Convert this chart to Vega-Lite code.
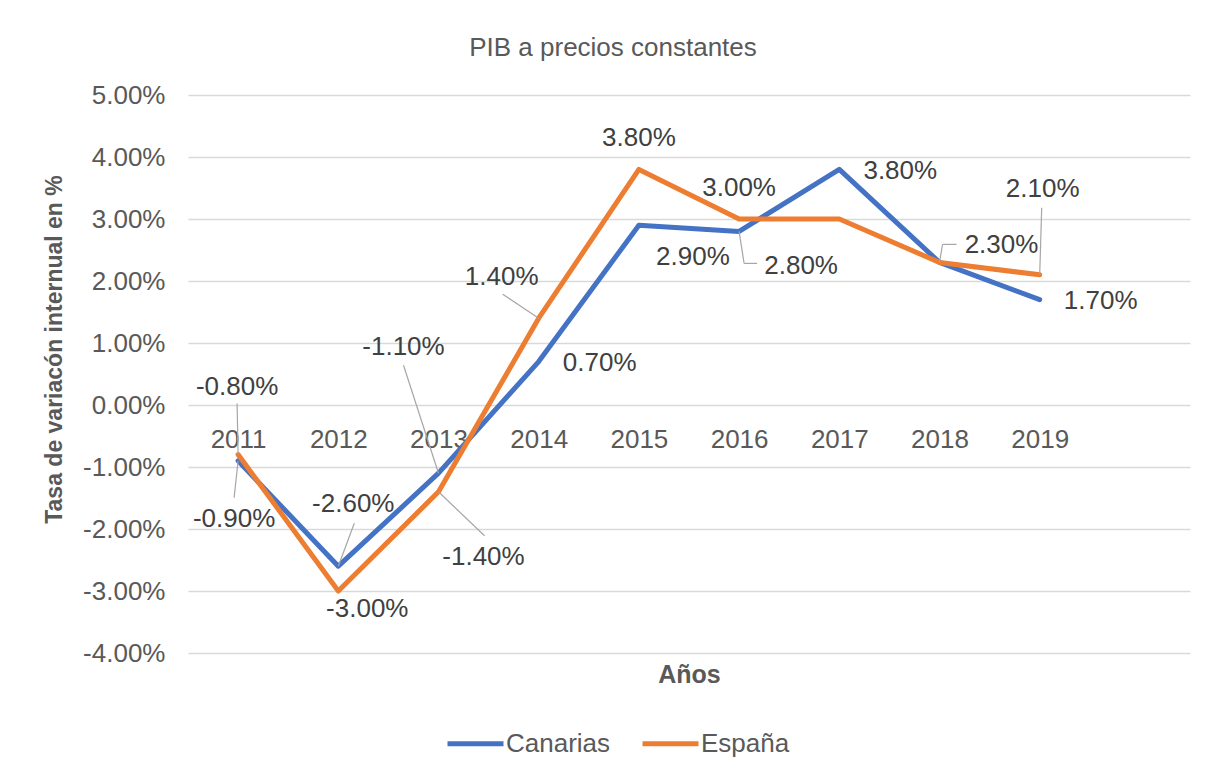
{
  "$schema": "https://vega.github.io/schema/vega-lite/v6.json",
  "width": 1002,
  "height": 558,
  "autosize": {"type": "none"},
  "padding": {"left": 188, "top": 95, "right": 18, "bottom": 121},
  "background": "white",
  "title": {"text": "PIB a precios constantes", "fontSize": 26, "font": "Liberation Sans", "fontWeight": "normal", "color": "#595959", "anchor": "middle", "dx": -76, "dy": 23, "baseline": "alphabetic", "offset": 23},
  "data": {"values": [
    {"serie": "Canarias", "year": 2011, "value": -0.009},
    {"serie": "Canarias", "year": 2012, "value": -0.026},
    {"serie": "Canarias", "year": 2013, "value": -0.011},
    {"serie": "Canarias", "year": 2014, "value": 0.007},
    {"serie": "Canarias", "year": 2015, "value": 0.029},
    {"serie": "Canarias", "year": 2016, "value": 0.028},
    {"serie": "Canarias", "year": 2017, "value": 0.038},
    {"serie": "Canarias", "year": 2018, "value": 0.023},
    {"serie": "Canarias", "year": 2019, "value": 0.017},
    {"serie": "España", "year": 2011, "value": -0.008},
    {"serie": "España", "year": 2012, "value": -0.030},
    {"serie": "España", "year": 2013, "value": -0.014},
    {"serie": "España", "year": 2014, "value": 0.014},
    {"serie": "España", "year": 2015, "value": 0.038},
    {"serie": "España", "year": 2016, "value": 0.030},
    {"serie": "España", "year": 2017, "value": 0.030},
    {"serie": "España", "year": 2018, "value": 0.023},
    {"serie": "España", "year": 2019, "value": 0.021}
  ]},
  "encoding": {
    "x": {"field": "year", "type": "quantitative",
      "scale": {"domain": [2010.5, 2020.5], "nice": false, "zero": false},
      "axis": {"values": [2011, 2012, 2013, 2014, 2015, 2016, 2017, 2018, 2019], "format": "d", "offset": -248,
        "labelFontSize": 26, "labelColor": "#595959", "labelPadding": 21, "labelFlush": false, "labelOverlap": false,
        "ticks": false, "domain": false, "grid": false,
        "title": "Años", "titleFontSize": 25, "titleFontWeight": "bold", "titleColor": "#595959", "titleY": 269, "titleBaseline": "middle"}},
    "y": {"field": "value", "type": "quantitative",
      "scale": {"domain": [-0.04, 0.05], "nice": false, "zero": false},
      "axis": {"values": [-0.04, -0.03, -0.02, -0.01, 0, 0.01, 0.02, 0.03, 0.04, 0.05], "format": ".2%",
        "labelFontSize": 26, "labelColor": "#595959", "labelPadding": 23,
        "ticks": false, "domain": false, "grid": true, "gridColor": "#d9d9d9", "gridWidth": 1.5,
        "title": "Tasa de variacón internual en %", "titleFontSize": 23, "titleFontWeight": "bold", "titleColor": "#595959", "titlePadding": 16, "titleY": 254}}
  },
  "layer": [
    {
      "mark": {"type": "line", "strokeWidth": 5, "strokeJoin": "round", "strokeCap": "round"},
      "encoding": {
        "color": {"field": "serie", "type": "nominal",
          "scale": {"domain": ["Canarias", "España"], "range": ["#4472C4", "#ED7D31"]},
          "legend": {"orient": "none", "legendX": 257, "legendY": 618, "direction": "horizontal", "title": null,
            "symbolType": "stroke", "symbolSize": 3136, "symbolStrokeWidth": 5,
            "labelFontSize": 26, "labelColor": "#595959", "labelOffset": 0, "columnPadding": 21, "padding": 0}}
      }
    },
    {
      "encoding": {"x2": {"field": "year"}, "y2": {"field": "value"}},
      "layer": [
        {"transform": [{"filter": "datum.serie === 'Canarias' && datum.year === 2011"}], "mark": {"type": "rule", "color": "#a6a6a6", "strokeWidth": 1.2, "x2Offset": -4, "y2Offset": 37}},
        {"transform": [{"filter": "datum.serie === 'Canarias' && datum.year === 2012"}], "mark": {"type": "rule", "color": "#a6a6a6", "strokeWidth": 1.2, "x2Offset": 16, "y2Offset": -43}},
        {"transform": [{"filter": "datum.serie === 'Canarias' && datum.year === 2013"}], "mark": {"type": "rule", "color": "#a6a6a6", "strokeWidth": 1.2, "x2Offset": -35, "y2Offset": -108}},
        {"transform": [{"filter": "datum.serie === 'Canarias' && datum.year === 2016"}], "mark": {"type": "rule", "color": "#a6a6a6", "strokeWidth": 1.2, "x2Offset": 5, "y2Offset": 32}},
        {"transform": [{"filter": "datum.serie === 'Canarias' && datum.year === 2016"}], "mark": {"type": "rule", "color": "#a6a6a6", "strokeWidth": 1.2, "xOffset": 5, "yOffset": 32, "x2Offset": 18, "y2Offset": 32}},
        {"transform": [{"filter": "datum.serie === 'España' && datum.year === 2011"}], "mark": {"type": "rule", "color": "#a6a6a6", "strokeWidth": 1.2, "x2Offset": -1, "y2Offset": -51}},
        {"transform": [{"filter": "datum.serie === 'España' && datum.year === 2013"}], "mark": {"type": "rule", "color": "#a6a6a6", "strokeWidth": 1.2, "x2Offset": 46, "y2Offset": 44}},
        {"transform": [{"filter": "datum.serie === 'España' && datum.year === 2014"}], "mark": {"type": "rule", "color": "#a6a6a6", "strokeWidth": 1.2, "x2Offset": -36, "y2Offset": -24}},
        {"transform": [{"filter": "datum.serie === 'España' && datum.year === 2018"}], "mark": {"type": "rule", "color": "#a6a6a6", "strokeWidth": 1.2, "x2Offset": 3, "y2Offset": -18}},
        {"transform": [{"filter": "datum.serie === 'España' && datum.year === 2018"}], "mark": {"type": "rule", "color": "#a6a6a6", "strokeWidth": 1.2, "xOffset": 3, "yOffset": -18, "x2Offset": 17, "y2Offset": -18}},
        {"transform": [{"filter": "datum.serie === 'España' && datum.year === 2019"}], "mark": {"type": "rule", "color": "#a6a6a6", "strokeWidth": 1.2, "x2Offset": 2, "y2Offset": -67}}
      ]
    },
    {
      "encoding": {"text": {"field": "value", "type": "quantitative", "format": ".2%"}},
      "layer": [
        {"transform": [{"filter": "datum.serie === 'Canarias' && (datum.year === 2014 || datum.year === 2017 || datum.year === 2019)"}], "mark": {"type": "text", "dx": 61, "dy": 1.5}},
        {"transform": [{"filter": "datum.serie === 'España' && (datum.year === 2015 || datum.year === 2016)"}], "mark": {"type": "text", "dx": 0, "dy": -31.5}},
        {"transform": [{"filter": "datum.serie === 'Canarias' && datum.year === 2011"}], "mark": {"type": "text", "dx": -4, "dy": 58}},
        {"transform": [{"filter": "datum.serie === 'Canarias' && datum.year === 2012"}], "mark": {"type": "text", "dx": 15, "dy": -62}},
        {"transform": [{"filter": "datum.serie === 'Canarias' && datum.year === 2013"}], "mark": {"type": "text", "dx": -35, "dy": -126}},
        {"transform": [{"filter": "datum.serie === 'Canarias' && datum.year === 2015"}], "mark": {"type": "text", "dx": 54, "dy": 32}},
        {"transform": [{"filter": "datum.serie === 'Canarias' && datum.year === 2016"}], "mark": {"type": "text", "dx": 62, "dy": 35}},
        {"transform": [{"filter": "datum.serie === 'España' && datum.year === 2011"}], "mark": {"type": "text", "dx": -1, "dy": -68}},
        {"transform": [{"filter": "datum.serie === 'España' && datum.year === 2012"}], "mark": {"type": "text", "dx": 29, "dy": 18}},
        {"transform": [{"filter": "datum.serie === 'España' && datum.year === 2013"}], "mark": {"type": "text", "dx": 45, "dy": 65}},
        {"transform": [{"filter": "datum.serie === 'España' && datum.year === 2014"}], "mark": {"type": "text", "dx": -37, "dy": -41}},
        {"transform": [{"filter": "datum.serie === 'España' && datum.year === 2018"}], "mark": {"type": "text", "dx": 62, "dy": -17}},
        {"transform": [{"filter": "datum.serie === 'España' && datum.year === 2019"}], "mark": {"type": "text", "dx": 3, "dy": -86}}
      ]
    }
  ],
  "config": {
    "font": "Liberation Sans",
    "view": {"stroke": null},
    "text": {"fontSize": 26, "color": "#404040", "align": "center", "baseline": "middle", "font": "Liberation Sans"},
    "locale": {"number": {"decimal": ".", "thousands": ",", "grouping": [3], "currency": ["", ""], "minus": "-"}}
  }
}
